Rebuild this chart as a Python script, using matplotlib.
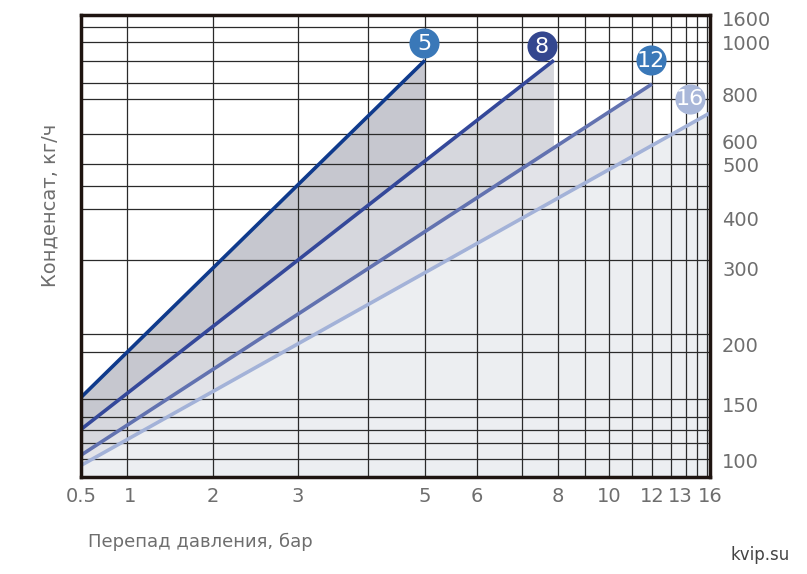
import numpy as np
import matplotlib
matplotlib.use("Agg")
import matplotlib.pyplot as plt

# calibration (value -> position on the chart's custom scales)
x_tick_vals = [0.5, 1, 2, 3, 5, 6, 8, 10, 12, 13, 16]
x_tick_labels = ["0.5", "1", "2", "3", "5", "6", "8", "10", "12", "13", "16"]
x_tick_pos = [81, 130, 213, 298, 425, 477, 558, 609, 652, 680, 710]
y_tick_vals = [90, 100, 150, 200, 300, 400, 500, 600, 800, 1000, 1600]
y_tick_labels = ["", "100", "150", "200", "300", "400", "500", "600", "800", "1000", "1600"]
y_tick_pos = [475, 463, 407, 347, 270, 220, 167, 143, 96, 45, 20]

# series: pressure class, start/end (Δp, condensate)
series_names = ["5", "8", "12", "16"]
series_x = [[0.5, 5], [0.5, 7.9], [0.5, 12], [0.5, 16]]
series_y = [[158, 940], [130, 940], [107, 847], [98, 728]]

line_colors = ["#0f3a8c", "#34489a", "#6272b0", "#a3b2d8"]
fill_colors = ["#c6c7cf", "#d6d7dd", "#e2e3e8", "#eceef1"]
badge_colors = ["#3a78b8", "#34478f", "#3a78b8", "#a9b7d9"]
badge_offsets = [(-1, -17), (-12, -14), (-1, -24), (-20, -14)]

grid_x = [127, 213, 298, 368, 425, 477, 522, 558, 585, 609, 632, 652, 671, 686, 697, 707]
grid_y = [27, 42, 61, 83, 99, 134, 164, 186, 209, 260, 334, 352, 399, 417, 430, 443, 459]

def fx(v):
    return np.interp(v, x_tick_vals, x_tick_pos)

def fy(v):
    return np.interp(v, y_tick_vals, y_tick_pos)

W, H = 807, 574
fig = plt.figure(figsize=(W/100, H/100), dpi=100)
L, R, T, B = 81, 710, 15, 477
ax = fig.add_axes([L/W, 1-B/H, (R-L)/W, (B-T)/H])
ax.set_xlim(L, R)
ax.set_ylim(B, T)

for g in grid_x:
    ax.axvline(g, color="#2a2a2a", lw=0.9, zorder=3)
for g in grid_y:
    ax.axhline(g, color="#2a2a2a", lw=0.9, zorder=3)

for i, name in enumerate(series_names):
    xs = fx(series_x[i]); ys = fy(series_y[i])
    ax.fill([xs[0], xs[1], xs[1], xs[0]], [ys[0], ys[1], B, B],
            color=fill_colors[i], lw=0, zorder=1 + i * 0.1)
for i, name in enumerate(series_names):
    xs = fx(series_x[i]); ys = fy(series_y[i])
    ax.plot(xs, ys, color=line_colors[i], lw=2.6, zorder=4, solid_capstyle="butt")
    bx, by = xs[1] + badge_offsets[i][0], ys[1] + badge_offsets[i][1]
    ax.scatter([bx], [by], s=470, color=badge_colors[i], zorder=6, clip_on=False, linewidths=0)
    ax.text(bx, by + 0.5, name, color="white", fontsize=16, ha="center", va="center",
            zorder=7, family="DejaVu Sans")

for s in ax.spines.values():
    s.set_linewidth(2.5)
    s.set_color("#1e1410")
    s.set_zorder(8)
ax.set_xticks([]); ax.set_yticks([])

tc = "#6e6e6e"
for v, lab in zip(x_tick_vals, x_tick_labels):
    fig.text(fx(v)/W, 1-497/H, lab, ha="center", va="center", fontsize=14, color=tc)
for v, lab in zip(y_tick_vals, y_tick_labels):
    if lab:
        fig.text(722/W, 1-fy(v)/H, lab, ha="left", va="center", fontsize=14, color=tc)

fig.text(50/W, 1-205/H, "Конденсат, кг/ч", rotation=90, ha="center", va="center",
         fontsize=14, color=tc)
fig.text(88/W, 1-542/H, "Перепад давления, бар", ha="left", va="center", fontsize=13, color=tc)
fig.text(730/W, 1-555/H, "kvip.su", ha="left", va="center", fontsize=12, color="#444444")

fig.savefig("out.png", dpi=100)
